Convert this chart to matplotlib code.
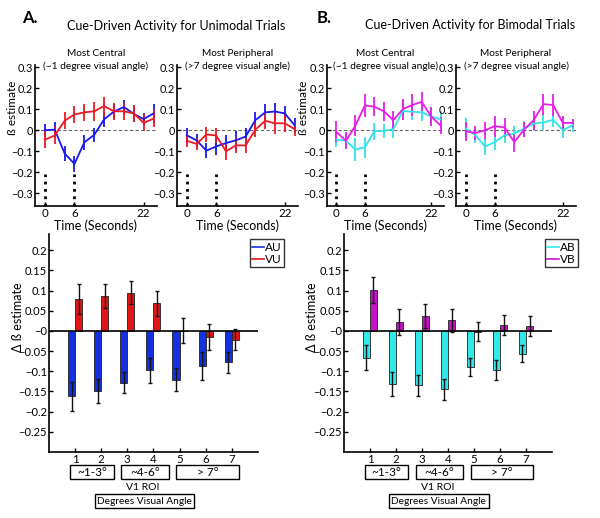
import numpy as np
import matplotlib
matplotlib.use("Agg")
import matplotlib.pyplot as plt
from matplotlib.patches import Rectangle

plt.rcParams["font.family"] = ["Lato", "DejaVu Sans"]
plt.rcParams["axes.unicode_minus"] = True

# ---- time courses (beta estimates) ----
time = np.arange(0, 24, 2)
time_ticks = [0, 6, 20]
time_tick_labels = ["0", "6", "22"]
onsets = [0, 6]

au_central = [0.0, 0.003, -0.11, -0.16, -0.057, -0.022, 0.052, 0.089, 0.11, 0.078, 0.053, 0.08]
au_central_err = [0.03, 0.035, 0.035, 0.038, 0.035, 0.035, 0.035, 0.035, 0.035, 0.04, 0.03, 0.045]
vu_central = [-0.045, -0.025, 0.045, 0.075, 0.085, 0.09, 0.115, 0.09, 0.09, 0.08, 0.035, 0.055]
vu_central_err = [0.04, 0.04, 0.04, 0.04, 0.04, 0.045, 0.045, 0.04, 0.04, 0.04, 0.04, 0.04]

au_periph = [-0.024, -0.048, -0.097, -0.077, -0.061, -0.048, -0.03, 0.048, 0.085, 0.089, 0.08, 0.024]
au_periph_err = [0.035, 0.03, 0.035, 0.04, 0.04, 0.045, 0.04, 0.04, 0.04, 0.04, 0.035, 0.035]
vu_periph = [-0.05, -0.065, -0.02, -0.025, -0.1, -0.072, -0.072, 0.003, 0.045, 0.033, 0.033, 0.005]
vu_periph_err = [0.03, 0.03, 0.035, 0.035, 0.04, 0.035, 0.035, 0.035, 0.04, 0.05, 0.04, 0.03]

ab_central = [-0.045, -0.05, -0.092, -0.08, -0.005, -0.003, 0.005, 0.092, 0.088, 0.085, 0.065, 0.052]
ab_central_err = [0.035, 0.035, 0.055, 0.05, 0.04, 0.035, 0.04, 0.04, 0.04, 0.04, 0.04, 0.04]
vb_central = [-0.008, -0.05, 0.022, 0.118, 0.112, 0.09, 0.048, 0.1, 0.12, 0.135, 0.065, 0.022]
vb_central_err = [0.05, 0.04, 0.05, 0.055, 0.045, 0.045, 0.045, 0.05, 0.05, 0.045, 0.045, 0.04]

ab_periph = [0.008, -0.024, -0.077, -0.056, -0.024, -0.016, 0.008, 0.032, 0.037, 0.05, 0.0, 0.024]
ab_periph_err = [0.05, 0.035, 0.04, 0.04, 0.035, 0.035, 0.035, 0.035, 0.035, 0.035, 0.035, 0.03]
vb_periph = [-0.005, -0.013, 0.0, 0.02, 0.013, -0.056, 0.003, 0.048, 0.124, 0.12, 0.035, 0.035]
vb_periph_err = [0.045, 0.035, 0.04, 0.05, 0.045, 0.045, 0.035, 0.045, 0.05, 0.05, 0.035, 0.02]

# ---- ROI bar data (delta beta) ----
rois = np.arange(1, 8)
au_bar = [-0.162, -0.149, -0.128, -0.097, -0.121, -0.087, -0.078]
au_bar_err = [0.036, 0.03, 0.026, 0.031, 0.028, 0.034, 0.026]
vu_bar = [0.078, 0.086, 0.095, 0.069, 0.001, -0.016, -0.022]
vu_bar_err = [0.037, 0.03, 0.028, 0.031, 0.03, 0.032, 0.026]

ab_bar = [-0.066, -0.132, -0.135, -0.145, -0.089, -0.097, -0.056]
ab_bar_err = [0.032, 0.03, 0.027, 0.025, 0.023, 0.025, 0.022]
vb_bar = [0.102, 0.022, 0.036, 0.026, -0.002, 0.014, 0.012]
vb_bar_err = [0.032, 0.032, 0.03, 0.028, 0.024, 0.025, 0.024]

roi_groups = [(0.8, 2.48, "~1-3°"), (2.76, 4.58, "~4-6°"), (4.88, 7.26, "> 7°")]

BLUE, RED = "#1818f0", "#ee1a22"
CYAN, MAGENTA = "#30e4e4", "#e81ce8"
BAR_BLUE, BAR_RED = "#1430e0", "#e41414"
BAR_CYAN, BAR_MAGENTA = "#30e8e8", "#c414c4"


def fmt(v):
    s = f"{v:g}"
    return s.replace("-", "\u2212")


def style_axes(ax, size):
    for side in ("top", "right"):
        ax.spines[side].set_visible(False)
    for side in ("left", "bottom"):
        ax.spines[side].set_linewidth(1.2)
    ax.tick_params(direction="in", length=3, width=1, labelsize=size, pad=1.5)


def time_panel(ax, series, title, ylabel_x=None):
    style_axes(ax, 7.8)
    ax.axhline(0, color="0.4", ls="--", lw=0.8, dashes=(3, 2), zorder=1)
    for y, err, col in series:
        ax.errorbar(time, y, yerr=err, color=col, lw=1.3, elinewidth=1.3,
                    capsize=0, zorder=3)
    ax.vlines(onsets, -0.36, -0.21, colors="k", linestyles=":", lw=2, zorder=2)
    ax.set_xlim(-2, 22.7)
    ax.set_ylim(-0.36, 0.31)
    ax.set_xticks(time_ticks)
    ax.set_xticklabels(time_tick_labels, fontsize=8.3)
    yt = np.round(np.arange(-0.3, 0.31, 0.1), 2)
    ax.set_yticks(yt)
    ax.set_yticklabels([fmt(v) for v in yt])
    ax.set_xlabel("Time (Seconds)", fontsize=9, labelpad=0)
    ax.text(0.5, 1.035, title, transform=ax.transAxes, ha="center",
            va="center", fontsize=7.3, linespacing=1.35)
    if ylabel_x is not None:
        ax.set_ylabel("ß estimate", fontsize=8.5)
        ax.yaxis.set_label_coords(ylabel_x, 0.7)


def bar_panel(ax, a, a_err, v, v_err, ca, cv, labels, ylabel_x):
    style_axes(ax, 8)
    w = 0.27
    ax.bar(rois - w / 2, a, w, color=ca, edgecolor="#202020", lw=0.6, zorder=2)
    ax.bar(rois + w / 2, v, w, color=cv, edgecolor="#202020", lw=0.6, zorder=2)
    ax.errorbar(rois - w / 2, a, yerr=a_err, fmt="none", ecolor="#111111",
                elinewidth=1, capsize=1.5, zorder=3)
    ax.errorbar(rois + w / 2, v, yerr=v_err, fmt="none", ecolor="#111111",
                elinewidth=1, capsize=1.5, zorder=3)
    ax.axhline(0, color="k", lw=1.2, zorder=4)
    ax.set_xlim(0, 8)
    ax.set_ylim(-0.3, 0.24)
    ax.set_xticks(rois)
    ax.set_xticklabels([str(r) for r in rois], fontsize=8.3)
    yt = np.round(np.arange(-0.25, 0.21, 0.05), 2)
    ax.set_yticks(yt)
    ax.set_yticklabels([fmt(v) for v in yt])
    ax.set_ylabel("\u0394 ß estimate", fontsize=9)
    ax.yaxis.set_label_coords(ylabel_x, 0.62)
    h1, = ax.plot([], [], color=ca, lw=1.2)
    h2, = ax.plot([], [], color=cv, lw=1.2)
    leg = ax.legend([h1, h2], labels, loc="upper right",
                    bbox_to_anchor=(1.125, 0.975), fontsize=8.5, frameon=True,
                    fancybox=False, edgecolor="k", handlelength=1.0,
                    handletextpad=0.1, borderpad=0.2, labelspacing=0.1,
                    borderaxespad=0)
    leg.get_frame().set_linewidth(1.0)
    tr = ax.get_xaxis_transform()
    for x0, x1, lab in roi_groups:
        ax.add_patch(Rectangle((x0, -0.125), x1 - x0, 0.064, transform=tr,
                               fill=False, ec="k", lw=1, clip_on=False))
        ax.text((x0 + x1) / 2, -0.093, lab, transform=tr, ha="center",
                va="center", fontsize=8.5)
    ax.text(3.6, -0.165, "V1 ROI", transform=tr, ha="center", va="center",
            fontsize=7.5)
    ax.text(3.65, -0.225, "Degrees Visual Angle", transform=tr, ha="center",
            va="center", fontsize=7.3,
            bbox=dict(boxstyle="square,pad=0.22", fc="white", ec="k", lw=1))


fig = plt.figure(figsize=(6, 5.18), dpi=100)

ax1 = fig.add_axes([0.0583, 0.6023, 0.2033, 0.2722])
ax2 = fig.add_axes([0.295, 0.6023, 0.2017, 0.2722])
ax3 = fig.add_axes([0.545, 0.6023, 0.195, 0.2722])
ax4 = fig.add_axes([0.76, 0.6023, 0.2, 0.2722])
ax5 = fig.add_axes([0.0817, 0.1274, 0.348, 0.4208])
ax6 = fig.add_axes([0.5733, 0.1274, 0.3467, 0.4208])

time_panel(ax1, [(au_central, au_central_err, BLUE), (vu_central, vu_central_err, RED)],
           "Most Central\n(~1 degree visual angle)", ylabel_x=-0.14)
time_panel(ax2, [(au_periph, au_periph_err, BLUE), (vu_periph, vu_periph_err, RED)],
           "Most Peripheral\n(>7 degree visual angle)")
time_panel(ax3, [(ab_central, ab_central_err, CYAN), (vb_central, vb_central_err, MAGENTA)],
           "Most Central\n(~1 degree visual angle)", ylabel_x=-0.155)
time_panel(ax4, [(ab_periph, ab_periph_err, CYAN), (vb_periph, vb_periph_err, MAGENTA)],
           "Most Peripheral\n(>7 degree visual angle)")

bar_panel(ax5, au_bar, au_bar_err, vu_bar, vu_bar_err, BAR_BLUE, BAR_RED,
          ["AU", "VU"], -0.12)
bar_panel(ax6, ab_bar, ab_bar_err, vb_bar, vb_bar_err, BAR_CYAN, BAR_MAGENTA,
          ["AB", "VB"], -0.125)

fig.text(0.036, 0.965, "A.", fontsize=12, fontweight="bold", va="center")
fig.text(0.528, 0.965, "B.", fontsize=12, fontweight="bold", va="center")
fig.text(0.293, 0.95, "Cue-Driven Activity for Unimodal Trials", fontsize=9,
         ha="center", va="center")
fig.text(0.783, 0.952, "Cue-Driven Activity for Bimodal Trials", fontsize=9,
         ha="center", va="center")

fig.savefig("out.png", dpi=100)
